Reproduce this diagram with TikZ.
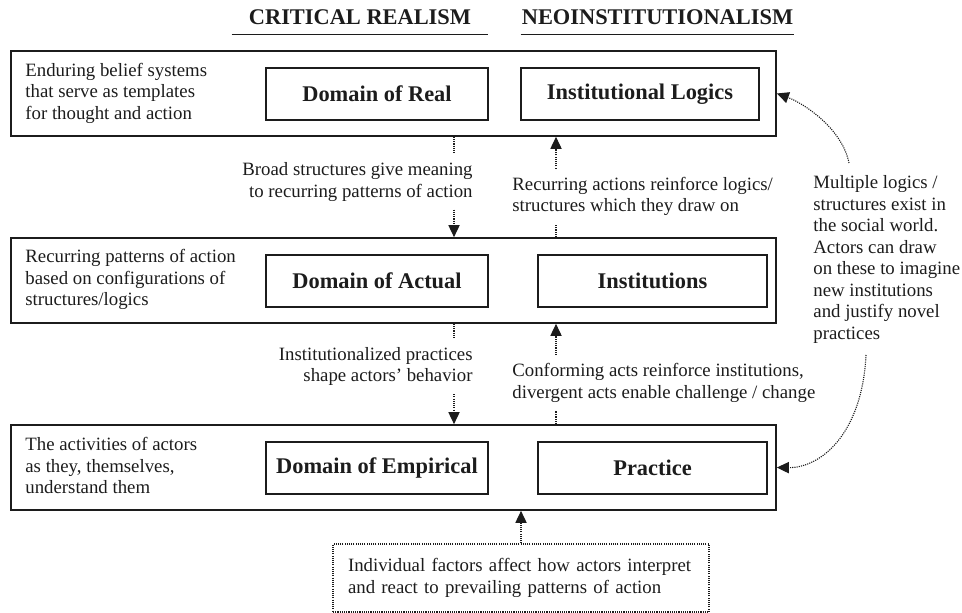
\documentclass[tikz,border=0pt]{standalone}
\usepackage{fontspec}
\setmainfont{Liberation Serif}
\usetikzlibrary{arrows.meta}

\definecolor{ink}{HTML}{1C1C1C}

\tikzset{
	rowbox/.style={draw=ink, line width=0.85pt, minimum width=382.5pt, minimum height=42.5pt, inner sep=0pt},
	domainbox/.style={draw=ink, line width=0.75pt, minimum height=26pt, inner sep=0pt, text=ink, font=\fontsize{11.2}{13}\selectfont\bfseries},
	header/.style={text=ink, inner xsep=0pt, inner ysep=4.5pt, text depth=0pt, font=\fontsize{11.2}{13}\selectfont\bfseries},
	desc/.style={anchor=west, align=left, inner sep=0pt, text=ink, font=\fontsize{9.4}{10.75}\selectfont},
	linkL/.style={anchor=west, align=left, inner xsep=0pt, inner ysep=4pt, text=ink, font=\fontsize{9.4}{10.75}\selectfont},
	linkR/.style={anchor=east, align=right, inner xsep=0pt, inner ysep=4pt, text=ink, font=\fontsize{9.4}{10.75}\selectfont},
	dots/.style={draw=ink, line width=0.55pt, dash pattern=on 0.55pt off 0.55pt},
	dotarrow/.style={dots, -{Triangle[length=6pt, width=5.6pt]}}
}

\begin{document}
\begin{tikzpicture}[x=0.5pt, y=-0.5pt]
	\useasboundingbox (0, 0) rectangle (962, 613);

	\node[header, minimum width=128pt] (crhead) at (360, 17.5) {CRITICAL REALISM};
	\node[header, minimum width=136.5pt] (nihead) at (657.5, 17.5) {NEOINSTITUTIONALISM};
	\draw[ink, line width=0.8pt] (crhead.south west) -- (crhead.south east);
	\draw[ink, line width=0.8pt] (nihead.south west) -- (nihead.south east);

	\node[rowbox] (realrow) at (393.5, 93.5) {};
	\node[rowbox] (actrow) at (393.5, 280.5) {};
	\node[rowbox] (emprow) at (393.5, 467.5) {};

	\node[domainbox, minimum width=111pt] (realbox) at (377, 94) {Domain of Real};
	\node[domainbox, minimum width=119pt] (logicbox) at (640, 94) {Institutional Logics};
	\node[domainbox, minimum width=111pt] (actbox) at (377, 281) {Domain of Actual};
	\node[domainbox, minimum width=114.5pt] (instbox) at (652.5, 281) {Institutions};
	\node[domainbox, minimum width=111pt] (empbox) at (377, 468) {Domain of Empirical};
	\node[domainbox, minimum width=114.5pt] (practbox) at (652.5, 468) {Practice};

	\node[desc] (realdesc) at (25, 93) {Enduring belief systems\\that serve as templates\\for thought and action};
	\node[desc] (actdesc) at (25, 279.5) {Recurring patterns of action\\based on configurations of\\structures/logics};
	\node[desc] (empdesc) at (25, 465.5) {The activities of actors\\as they, themselves,\\understand them};

	\coordinate (leftx) at (454, 0);
	\coordinate (rightx) at (556, 0);

	\node[linkR] (lblbroad) at (473, 182) {Broad structures give meaning\\to recurring patterns of action};
	\node[linkL] (lblrecur) at (512, 196.5) {Recurring actions reinforce logics/\\structures which they draw on};
	\node[linkR] (lblinst) at (473, 366.5) {Institutionalized practices\\shape actors' behavior};
	\node[linkL] (lblconf) at (512, 383) {Conforming acts reinforce institutions,\\divergent acts enable challenge / change};

	\draw[dots] (realrow.south -| leftx) -- (lblbroad.north -| leftx);
	\draw[dotarrow] (lblbroad.south -| leftx) -- (actrow.north -| leftx);
	\draw[dotarrow] (lblrecur.north -| rightx) -- (realrow.south -| rightx);
	\draw[dots] (actrow.north -| rightx) -- (lblrecur.south -| rightx);

	\draw[dots] (actrow.south -| leftx) -- (lblinst.north -| leftx);
	\draw[dotarrow] (lblinst.south -| leftx) -- (emprow.north -| leftx);
	\draw[dotarrow] (lblconf.north -| rightx) -- (actrow.south -| rightx);
	\draw[dots] (emprow.north -| rightx) -- (lblconf.south -| rightx);

	\node[desc] (multinote) at (813, 259.5) {Multiple logics /\\structures exist in\\the social world.\\Actors can draw\\on these to imagine\\new institutions\\and justify novel\\practices};
	\coordinate (noteup) at (849, 163);
	\coordinate (notedown) at (866, 355);
	\draw[dotarrow] (noteup) .. controls (842, 128) and (803, 103) .. (realrow.east);
	\draw[dotarrow] (notedown) .. controls (862, 435) and (820, 468) .. (emprow.east);

	\node[dots, text=ink, align=left, text width=173pt, inner xsep=7.5pt, minimum height=34pt, font=\fontsize{9.4}{10.75}\selectfont] (factors) at (521, 578) {Individual factors affect how actors interpret\\and react to prevailing patterns of action};
	\draw[dotarrow] (factors.north) -- (factors.north |- emprow.south);
\end{tikzpicture}
\end{document}
